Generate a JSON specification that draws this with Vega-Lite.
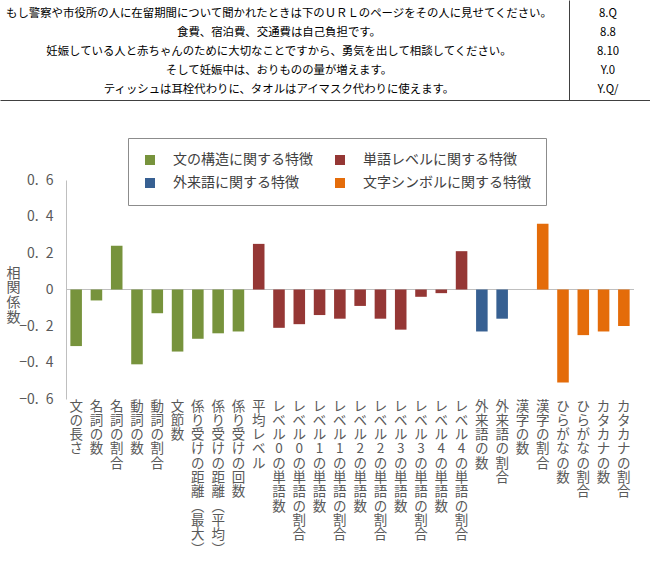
{
  "$schema": "https://vega.github.io/schema/vega-lite/v6.json",
  "width": 568,
  "height": 219,
  "autosize": {"type": "none"},
  "padding": {"left": 66, "top": 180, "right": 16, "bottom": 189},
  "background": "white",
  "config": {"view": {"stroke": null}, "font": "Noto Sans CJK JP"},
  "title": {
    "text": "図６　各特徴量と日本語の難易度のスコアの相関",
    "orient": "bottom",
    "anchor": "start",
    "frame": "group",
    "offset": 183,
    "dx": 126,
    "fontSize": 12.5,
    "fontWeight": "normal",
    "color": "#000000",
    "font": "Noto Sans CJK JP"
  },
  "datasets": {
    "相関": [
      {"特徴": "文の長さ", "分類": "文の構造に関する特徴", "相関係数": -0.31},
      {"特徴": "名詞の数", "分類": "文の構造に関する特徴", "相関係数": -0.06},
      {"特徴": "名詞の割合", "分類": "文の構造に関する特徴", "相関係数": 0.24},
      {"特徴": "動詞の数", "分類": "文の構造に関する特徴", "相関係数": -0.41},
      {"特徴": "動詞の割合", "分類": "文の構造に関する特徴", "相関係数": -0.13},
      {"特徴": "文節数", "分類": "文の構造に関する特徴", "相関係数": -0.34},
      {"特徴": "係り受けの距離（最大）", "分類": "文の構造に関する特徴", "相関係数": -0.27},
      {"特徴": "係り受けの距離（平均）", "分類": "文の構造に関する特徴", "相関係数": -0.24},
      {"特徴": "係り受けの回数", "分類": "文の構造に関する特徴", "相関係数": -0.23},
      {"特徴": "平均レベル", "分類": "単語レベルに関する特徴", "相関係数": 0.25},
      {"特徴": "レベル0の単語数", "分類": "単語レベルに関する特徴", "相関係数": -0.21},
      {"特徴": "レベル0の単語の割合", "分類": "単語レベルに関する特徴", "相関係数": -0.19},
      {"特徴": "レベル1の単語数", "分類": "単語レベルに関する特徴", "相関係数": -0.14},
      {"特徴": "レベル1の単語の割合", "分類": "単語レベルに関する特徴", "相関係数": -0.16},
      {"特徴": "レベル2の単語数", "分類": "単語レベルに関する特徴", "相関係数": -0.09},
      {"特徴": "レベル2の単語の割合", "分類": "単語レベルに関する特徴", "相関係数": -0.16},
      {"特徴": "レベル3の単語数", "分類": "単語レベルに関する特徴", "相関係数": -0.22},
      {"特徴": "レベル3の単語の割合", "分類": "単語レベルに関する特徴", "相関係数": -0.04},
      {"特徴": "レベル4の単語数", "分類": "単語レベルに関する特徴", "相関係数": -0.02},
      {"特徴": "レベル4の単語の割合", "分類": "単語レベルに関する特徴", "相関係数": 0.21},
      {"特徴": "外来語の数", "分類": "外来語に関する特徴", "相関係数": -0.23},
      {"特徴": "外来語の割合", "分類": "外来語に関する特徴", "相関係数": -0.16},
      {"特徴": "漢字の数", "分類": "文字シンボルに関する特徴", "相関係数": 0.0},
      {"特徴": "漢字の割合", "分類": "文字シンボルに関する特徴", "相関係数": 0.36},
      {"特徴": "ひらがなの数", "分類": "文字シンボルに関する特徴", "相関係数": -0.51},
      {"特徴": "ひらがなの割合", "分類": "文字シンボルに関する特徴", "相関係数": -0.25},
      {"特徴": "カタカナの数", "分類": "文字シンボルに関する特徴", "相関係数": -0.23},
      {"特徴": "カタカナの割合", "分類": "文字シンボルに関する特徴", "相関係数": -0.2}
    ],
    "表": [
      {"行": 1, "列": "本文", "内容": "もし警察や市役所の人に在留期間について聞かれたときは下のＵＲＬのページをその人に見せてください。"},
      {"行": 1, "列": "得点", "内容": "8.Q"},
      {"行": 2, "列": "本文", "内容": "食費、宿泊費、交通費は自己負担です。"},
      {"行": 2, "列": "得点", "内容": "8.8"},
      {"行": 3, "列": "本文", "内容": "妊娠している人と赤ちゃんのために大切なことですから、勇気を出して相談してください。"},
      {"行": 3, "列": "得点", "内容": "8.10"},
      {"行": 4, "列": "本文", "内容": "そして妊娠中は、おりものの量が増えます。"},
      {"行": 4, "列": "得点", "内容": "Y.0"},
      {"行": 5, "列": "本文", "内容": "ティッシュは耳栓代わりに、タオルはアイマスク代わりに使えます。"},
      {"行": 5, "列": "得点", "内容": "Y.Q/"}
    ]
  },
  "layer": [
    {
      "data": {"name": "相関"},
      "layer": [
        {
          "mark": {"type": "rule", "color": "#bfbfbf", "strokeWidth": 1},
          "encoding": {"y": {"datum": 0, "type": "quantitative"}}
        },
        {
          "mark": {"type": "bar"},
          "encoding": {
            "x": {
              "field": "特徴",
              "type": "nominal",
              "sort": null,
              "scale": {"paddingInner": 0.43, "paddingOuter": 0.215},
              "axis": {
                "orient": "bottom",
                "title": null,
                "domain": false,
                "ticks": false,
                "grid": false,
                "labelAngle": 0,
                "labelAlign": "center",
                "labelBaseline": "top",
                "labelPadding": 0,
                "labelFontSize": 13.5,
                "labelLineHeight": 14.3,
                "labelColor": "#595959",
                "labelFont": "Noto Sans CJK JP",
                "labelOverlap": false,
                "labelLimit": 400,
                "labelExpr": "split(replace(replace(datum.label, '（', '︵'), '）', '︶'), '')"
              }
            },
            "y": {
              "field": "相関係数",
              "type": "quantitative",
              "scale": {"domain": [-0.6, 0.6], "nice": false, "zero": false},
              "axis": {
                "orient": "left",
                "values": [-0.6, -0.4, -0.2, 0, 0.2, 0.4, 0.6],
                "tickCount": 10,
                "grid": false,
                "ticks": false,
                "domainColor": "#bfbfbf",
                "labelPadding": 13,
                "labelFontSize": 14,
                "labelColor": "#595959",
                "labelFont": "Noto Sans CJK JP",
                "labelOverlap": false,
                "labelExpr": "datum.value == 0 ? '0' : replace(format(datum.value, '.1f'), '.', '.\u2002')",
                "title": ["相", "関", "係", "数"],
                "titleAngle": 0,
                "titleX": -53,
                "titleY": 93,
                "titleAlign": "center",
                "titleBaseline": "middle",
                "titleFontSize": 14,
                "titleFontWeight": "normal",
                "titleColor": "#595959",
                "titleFont": "Noto Sans CJK JP",
                "titleLineHeight": 14.7
              }
            },
            "color": {
              "field": "分類",
              "type": "nominal",
              "scale": {
                "domain": ["文の構造に関する特徴", "単語レベルに関する特徴", "外来語に関する特徴", "文字シンボルに関する特徴"],
                "range": ["#77933c", "#953735", "#376092", "#e46c0a"]
              },
              "legend": {
                "title": null,
                "orient": "none",
                "legendX": 62,
                "legendY": -42,
                "direction": "horizontal",
                "columns": 2,
                "symbolType": "square",
                "symbolSize": 100,
                "symbolStrokeWidth": 0,
                "labelFontSize": 14,
                "labelColor": "#404040",
                "labelFont": "Noto Sans CJK JP",
                "labelOffset": 16,
                "labelLimit": 300,
                "columnPadding": 20,
                "rowPadding": 9,
                "padding": 15,
                "strokeColor": "#8c8c8c",
                "fillColor": "white"
              }
            }
          }
        }
      ]
    },
    {
      "data": {"name": "表"},
      "mark": {"type": "text", "fontSize": 11.4, "color": "#000000", "align": "center", "baseline": "middle", "font": "Noto Sans CJK JP"},
      "encoding": {
        "x": {
          "field": "列",
          "type": "nominal",
          "scale": {"type": "band", "domain": ["本文", "得点"], "range": [-66, 584], "paddingInner": 0.9, "paddingOuter": 0.4378, "align": 0.9113},
          "axis": {"orient": "top", "offset": 80, "labels": false, "ticks": false, "grid": false, "title": null, "domainColor": "#404040", "domainWidth": 1}
        },
        "y": {
          "field": "行",
          "type": "ordinal",
          "scale": {"type": "band", "domain": [1, 2, 3, 4, 5], "range": [-180, -80], "paddingInner": 0, "paddingOuter": 0.1316, "align": 0.9},
          "axis": {"orient": "right", "offset": -65, "labels": false, "ticks": false, "grid": false, "title": null, "domainColor": "#404040", "domainWidth": 1}
        },
        "text": {"field": "内容", "type": "nominal"}
      }
    }
  ],
  "resolve": {
    "scale": {"x": "independent", "y": "independent"},
    "axis": {"x": "independent", "y": "independent"}
  }
}
